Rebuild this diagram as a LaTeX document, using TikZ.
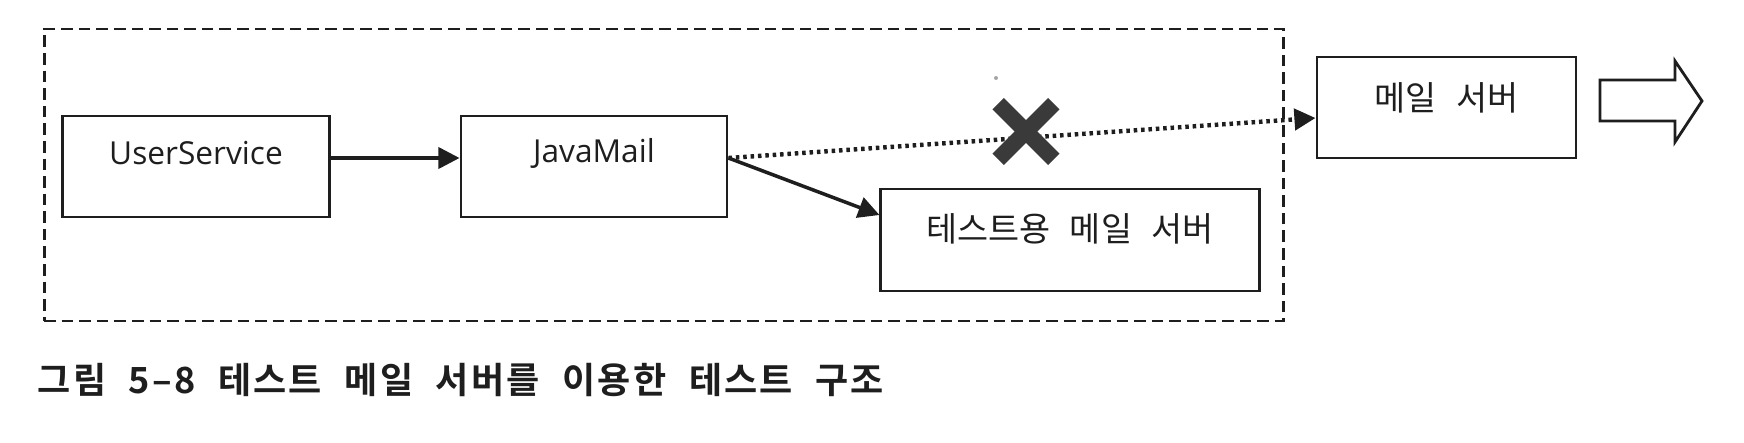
\documentclass[tikz,border=0pt]{standalone}
\usepackage{fontspec}
\setmainfont{Open Sans}
\newfontfamily\kr{Noto Sans CJK KR}[WordSpace=2.6]
\newfontfamily\krcap{Noto Sans CJK KR}[UprightFont=* Bold, LetterSpace=6, WordSpace=2.2]
\usetikzlibrary{arrows.meta,calc}
\definecolor{ink}{HTML}{1E1E1E}
\definecolor{xgray}{HTML}{3A3A3A}
\begin{document}
\begin{tikzpicture}[x=0.01cm,y=-0.01cm,
  box/.style={draw=ink, line width=0.8pt, minimum height=1.01cm, inner sep=0pt},
  lbl/.style={font=\fontsize{9}{10}\selectfont, text=ink, inner sep=0pt},
  krlbl/.style={font=\kr\fontsize{9.6}{10}\selectfont, text=ink, inner sep=0pt},
  arr/.style={-{Triangle[length=6pt,width=6pt]}, line width=1pt, draw=ink},
  dotline/.style={-{Triangle[length=6pt,width=6pt]}, line width=1.25pt, draw=ink, dash pattern=on 1pt off 1.1pt},
  frame/.style={draw=ink, line width=0.8pt, dash pattern=on 3.3pt off 1.7pt, inner sep=0pt},
  xbar/.style={draw=xgray, line width=4.6pt}]
\useasboundingbox (0,0) rectangle (1744,442);
\fill[white] (0,0) rectangle (1744,442);

\node[frame, minimum width=12.39cm, minimum height=2.92cm] (fr) at (664,175) {};

\node[box, minimum width=2.665cm, label={[lbl, yshift=0.135cm]center:UserService}] (us) at (196,166.5) {};
\node[box, minimum width=2.66cm, label={[lbl, yshift=0.135cm]center:JavaMail}] (jm) at (594,166.5) {};
\node[box, minimum width=3.78cm, minimum height=1.02cm, label={[krlbl, yshift=0.11cm]center:테스트용 메일 서버}] (ts) at (1070,240) {};
\node[box, minimum width=2.59cm, label={[krlbl, yshift=0.10cm]center:메일 서버}] (ms) at (1446.5,107.5) {};

\draw[arr] (us.east |- 0,158) -- (jm.west |- 0,158);
\draw[arr] (jm.east |- 0,158) -- (ts.west |- 0,215);
\draw[dotline] (jm.east |- 0,158) -- (ms.west |- 0,118);

\coordinate (xm) at (1026,131.5);
\draw[xbar] ($(xm)+(-27.8,-27.8)$) -- ($(xm)+(27.8,27.8)$);
\draw[xbar] ($(xm)+(27.8,-27.8)$) -- ($(xm)+(-27.8,27.8)$);
\fill[gray!70] (996,78) circle (0.02cm);

\draw[draw=ink, line width=0.8pt, line join=miter] (1600,80) -- (1675,80) -- (1675,61) -- (1702,101) -- (1675,142) -- (1675,121) -- (1600,121) -- cycle;

\node[anchor=west, inner sep=0pt, font=\krcap\fontsize{10.25}{12}\selectfont, text=ink] (cap) at (37,380) {그림 5–8 테스트 메일 서버를 이용한 테스트 구조};
\end{tikzpicture}
\end{document}
